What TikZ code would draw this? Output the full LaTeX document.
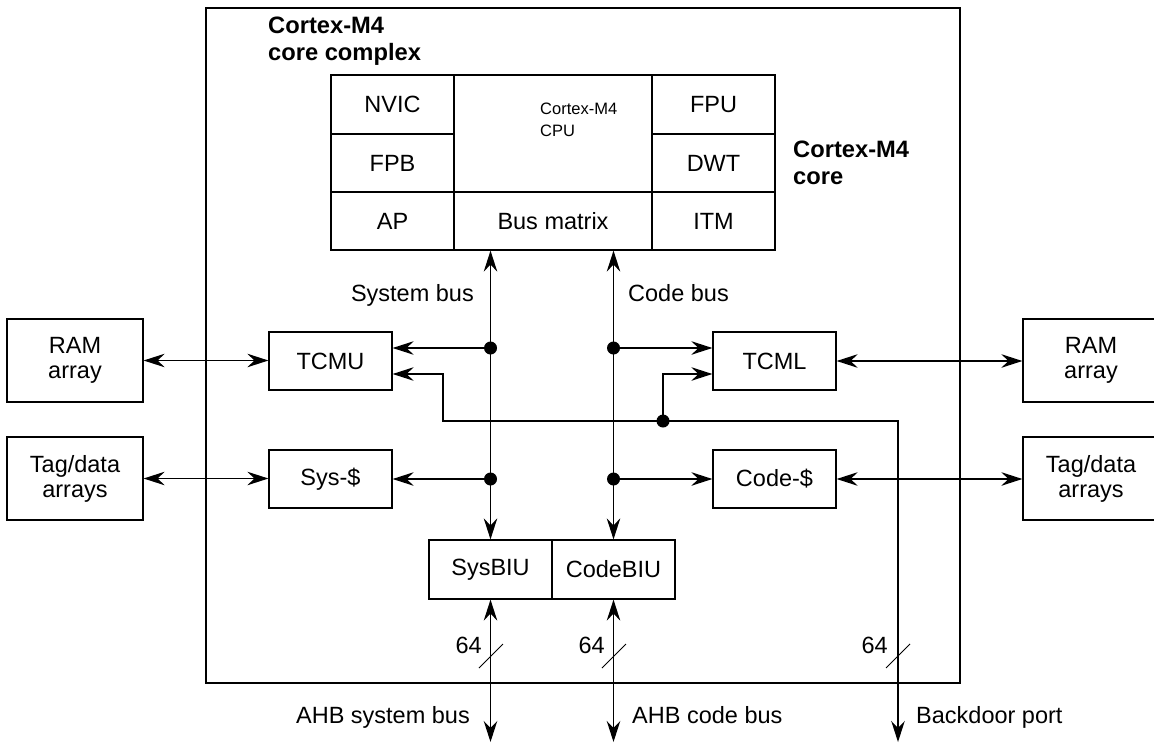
\documentclass[tikz,border=0pt]{standalone}
\usepackage{fontspec}
\setmainfont{Liberation Sans}
\usetikzlibrary{arrows.meta}
\begin{document}
\begin{tikzpicture}[x=1pt,y=-1pt,
  every node/.style={font=\fontsize{23.5}{25}\selectfont, inner sep=0pt},
  blk/.style={draw, line width=1.2pt, align=center, minimum width=123pt, minimum height=58pt},
  ext/.style={blk, minimum width=136pt, minimum height=83pt},
  hd/.style={font=\fontsize{23.7}{27}\selectfont\bfseries, align=left, anchor=north west},
  jdot/.style={circle, fill=black, minimum size=13pt},
  conn/.style={line width=1.3pt, >={Stealth[length=21pt,width=13.5pt,inset=7pt]}},
  tick/.style={line width=1pt}]
\useasboundingbox (0,0) rectangle (1154,744);
% outer box
\node[draw, line width=2.8pt, minimum width=754pt, minimum height=675pt] (outer) at (583,345.5) {};
% core grid
\node[blk, minimum height=59pt] (nvic) at (392.5,104.5) {NVIC};
\node[blk] (fpb) at (392.5,163) {FPB};
\node[blk] (ap) at (392.5,221) {AP};
\node[blk, minimum width=198pt, minimum height=117pt] (cpu) at (553,133.5) {};
\node[font=\fontsize{16.5}{22}\selectfont, align=left, anchor=west] (cputxt) at (540,120) {Cortex-M4\\CPU};
\node[blk, minimum width=198pt] (busm) at (553,221) {Bus matrix};
\node[blk, minimum height=59pt] (fpu) at (713.5,104.5) {FPU};
\node[blk] (dwt) at (713.5,163) {DWT};
\node[blk] (itm) at (713.5,221) {ITM};
% headings
\node[hd] (cclbl) at (268,16.5) {Cortex-M4\\core complex};
\node[hd] (corelbl) at (793,140.5) {Cortex-M4\\core};
% TCM and caches
\node[blk] (tcmu) at (330.5,361) {TCMU};
\node[blk] (sysc) at (330.5,479) {Sys-\$};
\node[blk] (tcml) at (774.5,361) {TCML};
\node[blk] (codec) at (774.5,479) {Code-\$};
\node[ext] (ramL) at (75,360.5) {RAM\\array};
\node[ext] (tagL) at (75,478.5) {Tag/data\\arrays};
\node[ext] (ramR) at (1091,360.5) {RAM\\array};
\node[ext] (tagR) at (1091,478.5) {Tag/data\\arrays};
% BIUs
\node[blk, minimum height=59pt] (sysbiu) at (490.5,569.5) {SysBIU};
\node[blk, minimum height=59pt] (codebiu) at (613.5,569.5) {CodeBIU};
% coordinates
\coordinate (j1) at (490.5,348);
\coordinate (j2) at (490.5,479);
\coordinate (j3) at (613.5,348);
\coordinate (j4) at (613.5,479);
\coordinate (j5) at (663,421);
\coordinate (b1) at (443,421);
\coordinate (b2) at (898,421);
\coordinate (bot) at (898,742);
\coordinate (sysbot) at (490.5,742);
\coordinate (codebot) at (613.5,742);
% buses
\draw[conn,<->] (busm.south -| sysbiu.north) -- (sysbiu.north);
\draw[conn,<->] (busm.south -| codebiu.north) -- (codebiu.north);
\draw[conn,->] (j1) -- (j1 -| tcmu.east);
\draw[conn,->] (j2) -- (sysc.east);
\draw[conn,->] (j3) -- (j3 -| tcml.west);
\draw[conn,->] (j4) -- (codec.west);
\draw[conn,<->] (ramL.east) -- (ramL.east -| tcmu.west);
\draw[conn,<->] (tagL.east) -- (tagL.east -| sysc.west);
\draw[conn,<->] (tcml.east) -- (tcml.east -| ramR.west);
\draw[conn,<->] (codec.east) -- (codec.east -| tagR.west);
\draw[conn,<->] ([yshift=-13pt]tcmu.east) -| (b1) -- (b2) -- (bot);
\draw[conn,->] (j5) |- ([yshift=-13pt]tcml.west);
\draw[conn,<->] (sysbiu.south) -- (sysbot);
\draw[conn,<->] (codebiu.south) -- (codebot);
\node[jdot] (d1) at (j1) {};
\node[jdot] (d2) at (j2) {};
\node[jdot] (d3) at (j3) {};
\node[jdot] (d4) at (j4) {};
\node[jdot] (d5) at (j5) {};
% width ticks
\draw[tick] (479,668) -- (503,644);
\draw[tick] (602,668) -- (626,644);
\draw[tick] (886,668) -- (910,644);
\node[anchor=base east] (w1) at (482,653) {64};
\node[anchor=base east] (w2) at (605,653) {64};
\node[anchor=base east] (w3) at (888,653) {64};
% bus labels
\node[anchor=base east] (sbl) at (474,301) {System bus};
\node[anchor=base west] (cbl) at (628,301) {Code bus};
\node[anchor=base east] (ahbs) at (470,723) {AHB system bus};
\node[anchor=base west] (ahbc) at (632,723) {AHB code bus};
\node[anchor=base west] (bdp) at (916,723) {Backdoor port};
\end{tikzpicture}
\end{document}
